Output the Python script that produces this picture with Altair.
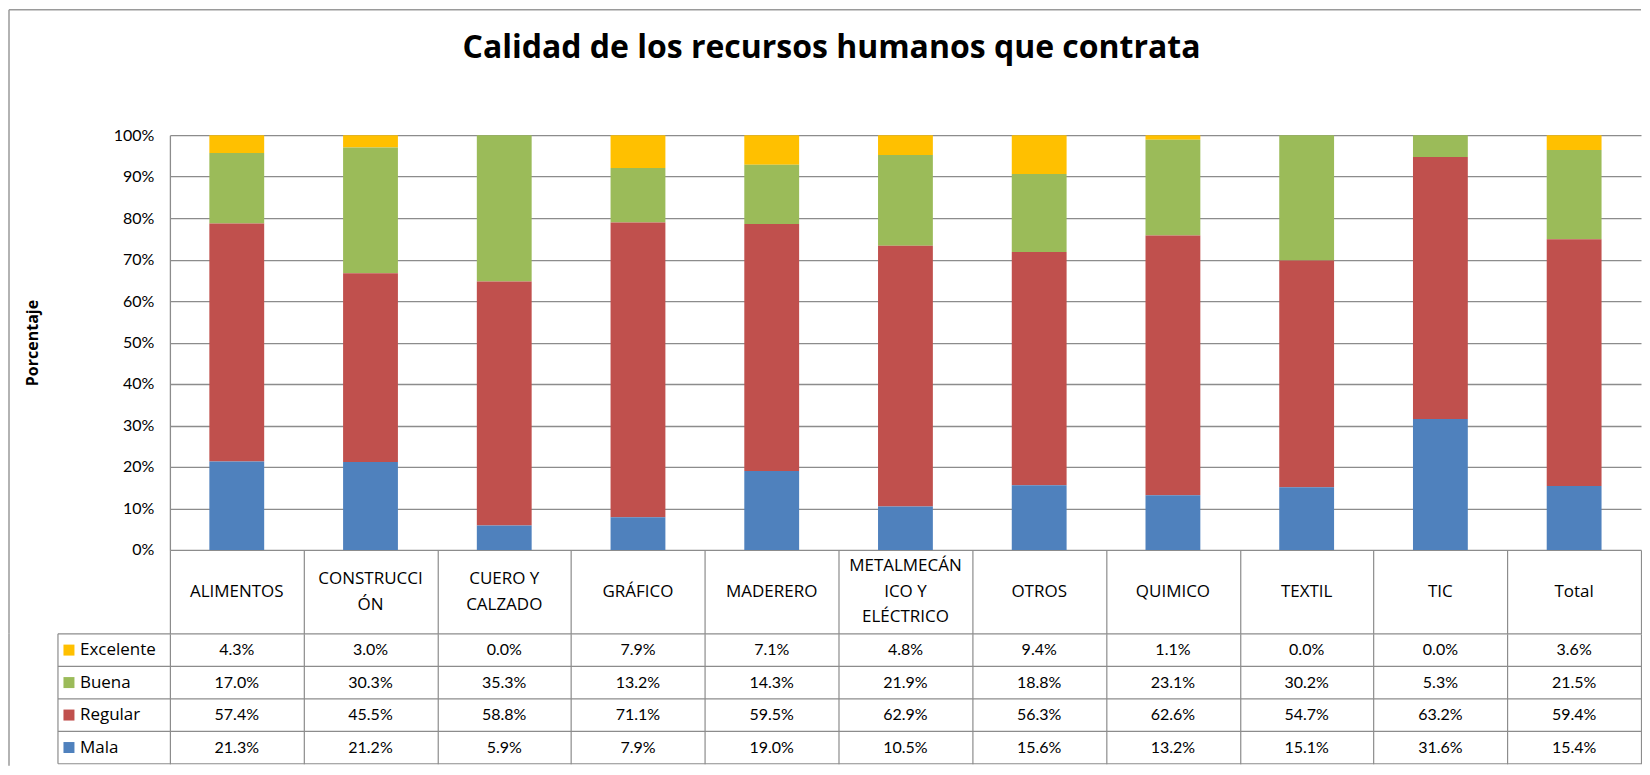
import altair as alt
import pandas as pd

# ---------------- data ----------------
categories = ["ALIMENTOS", "CONSTRUCCIÓN", "CUERO Y CALZADO", "GRÁFICO", "MADERERO",
              "METALMECÁNICO Y ELÉCTRICO", "OTROS", "QUIMICO", "TEXTIL", "TIC", "Total"]
header_labels = ["ALIMENTOS", "CONSTRUCCI\nÓN", "CUERO Y\nCALZADO", "GRÁFICO", "MADERERO",
                 "METALMECÁN\nICO Y\nELÉCTRICO", "OTROS", "QUIMICO", "TEXTIL", "TIC", "Total"]
series = ["Excelente", "Buena", "Regular", "Mala"]
colors = ["#FFC000", "#9BBB59", "#C0504D", "#4F81BD"]
stack_rank = [3, 2, 1, 0]  # Mala at the bottom

excelente = [4.3, 3.0, 0.0, 7.9, 7.1, 4.8, 9.4, 1.1, 0.0, 0.0, 3.6]
buena = [17.0, 30.3, 35.3, 13.2, 14.3, 21.9, 18.8, 23.1, 30.2, 5.3, 21.5]
regular = [57.4, 45.5, 58.8, 71.1, 59.5, 62.9, 56.3, 62.6, 54.7, 63.2, 59.4]
mala = [21.3, 21.2, 5.9, 7.9, 19.0, 10.5, 15.6, 13.2, 15.1, 31.6, 15.4]

title_text = "Calidad de los recursos humanos que contrata"
y_title = "Porcentaje"
y_ticks = [0.0, 0.1, 0.2, 0.3, 0.4, 0.5, 0.6, 0.7, 0.8, 0.9, 1.0]

values_by_series = {"Excelente": excelente, "Buena": buena, "Regular": regular, "Mala": mala}
rows = []
for s, rank in zip(series, stack_rank):
    for c, v in zip(categories, values_by_series[s]):
        rows.append({"cat": c, "series": s, "value": v, "rank": rank, "text": f"{v:.1f}%"})
df = pd.DataFrame(rows)
hdr_df = pd.DataFrame({"cat": categories, "label": header_labels,
                       "nlines": [lbl.count("\n") + 1 for lbl in header_labels]})
ser_df = pd.DataFrame({"series": series})
one = pd.DataFrame({"k": [0]})

# ---------------- layout constants ----------------
W = 1472
H_PLOT = 415
H_HDR = 84
H_TAB = 130
LINE_H = 25.5
GRID = "#8c8c8c"
BORDER = "#9a9a9a"
FONT = "Lato"
FONT_W = "Open Sans"

color_enc = alt.Color("series:N", scale=alt.Scale(domain=series, range=colors), legend=None)

# ---------------- top: stacked bars ----------------
bars = alt.Chart(df).mark_bar().encode(
    x=alt.X("cat:N", sort=categories,
            scale=alt.Scale(paddingInner=0.59, paddingOuter=0.295), axis=None),
    y=alt.Y("value:Q", stack="normalize",
            scale=alt.Scale(domain=[0, 1], nice=False),
            axis=alt.Axis(format=".0%", values=y_ticks, grid=True, gridColor=GRID,
                          gridWidth=1.3, ticks=False, domainColor=GRID, domainWidth=1.3,
                          labelPadding=16, labelFont=FONT, labelFontSize=16,
                          labelColor="#000", title=y_title, titleFont=FONT_W,
                          titleFontSize=16, titleFontWeight="bold", titleColor="#000",
                          titleX=-137, titleY=H_PLOT / 2, titleBaseline="middle")),
    color=color_enc,
    order=alt.Order("rank:Q"),
)

title_mark = alt.Chart(one).mark_text(
    font=FONT_W, fontSize=32, fontWeight="bold", color="#000",
    align="center", baseline="middle",
).encode(x=alt.value(662), y=alt.value(-87), text=alt.value(title_text))

border_left_top = alt.Chart(one).mark_rule(color=BORDER, strokeWidth=1.5).encode(
    x=alt.value(-161), y=alt.value(-125.5), y2=alt.value(H_PLOT))
border_top = alt.Chart(one).mark_rule(color=BORDER, strokeWidth=1.5).encode(
    x=alt.value(-161), x2=alt.value(W), y=alt.value(-125.5))

top = alt.layer(border_left_top, border_top, bars, title_mark).properties(width=W, height=H_PLOT)

# ---------------- header row ----------------
x_table = alt.X("cat:N", sort=categories,
                scale=alt.Scale(paddingInner=0, paddingOuter=0),
                axis=alt.Axis(grid=True, tickBand="extent", labels=False, ticks=False,
                              domain=False, title=None, gridColor=GRID, gridWidth=1.2))

hdr_layers = []
for n in (1, 2, 3):
    hdr_layers.append(
        alt.Chart(hdr_df).transform_filter(alt.datum.nlines == n).mark_text(
            font=FONT_W, fontSize=17, lineBreak="\n", lineHeight=LINE_H, color="#000",
            align="center", baseline="middle",
        ).encode(x=x_table, y=alt.value(H_HDR / 2 - (n - 1) * LINE_H / 2), text="label:N")
    )

border_left_hdr = alt.Chart(one).mark_rule(color=BORDER, strokeWidth=1.5).encode(
    x=alt.value(-161), y=alt.value(0), y2=alt.value(H_HDR))

header = alt.layer(border_left_hdr, *hdr_layers).properties(width=W, height=H_HDR)

# ---------------- data table ----------------
y_table = alt.Y("series:N", sort=series,
                scale=alt.Scale(paddingInner=0, paddingOuter=0), axis=None)

tab_text = alt.Chart(df).mark_text(
    font=FONT, fontSize=16, color="#000", align="center", baseline="middle",
).encode(x=x_table, y=y_table, text="text:N")

row_lines = alt.Chart(ser_df).mark_rule(color=GRID, strokeWidth=1.2).encode(
    y=alt.Y("series:N", sort=series, bandPosition=0,
            scale=alt.Scale(paddingInner=0, paddingOuter=0), axis=None),
    x=alt.value(-112), x2=alt.value(W))
bottom_line = alt.Chart(one).mark_rule(color=GRID, strokeWidth=1.2).encode(
    y=alt.value(H_TAB), x=alt.value(-112), x2=alt.value(W))
legend_left = alt.Chart(one).mark_rule(color=GRID, strokeWidth=1.2).encode(
    x=alt.value(-112), y=alt.value(0), y2=alt.value(H_TAB))
swatches = alt.Chart(ser_df).mark_square(size=121, opacity=1).encode(
    x=alt.value(-101), y=y_table, color=color_enc)
leg_labels = alt.Chart(ser_df).mark_text(
    font=FONT_W, fontSize=17, color="#000", align="left", baseline="middle",
).encode(x=alt.value(-90), y=y_table, text="series:N")
border_left_tab = alt.Chart(one).mark_rule(color=BORDER, strokeWidth=1.5).encode(
    x=alt.value(-161), y=alt.value(0), y2=alt.value(H_TAB + 2))

table = alt.layer(border_left_tab, row_lines, bottom_line, legend_left,
                  tab_text, swatches, leg_labels).properties(width=W, height=H_TAB)

chart = alt.vconcat(top, header, table, spacing=0, bounds="flush").properties(
    padding={"left": 0, "top": 0, "right": 0, "bottom": 0}
).configure(font=FONT).configure_view(strokeWidth=0)

chart.save("out.html", embed_options={"renderer": "svg", "actions": False})
